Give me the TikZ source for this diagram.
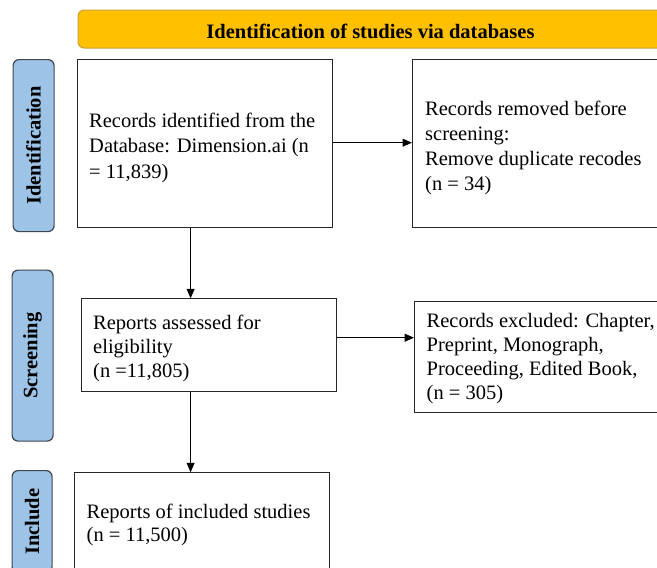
\documentclass[tikz,border=0pt]{standalone}
\usepackage{fontspec}
\setmainfont{Liberation Serif}
\usetikzlibrary{arrows.meta}
\definecolor{gold}{HTML}{FFC000}
\definecolor{goldline}{HTML}{C8A040}
\definecolor{phasefill}{HTML}{9DC3E6}
\definecolor{phaseline}{HTML}{3E4650}
\begin{document}
\begin{tikzpicture}[x=1pt,y=-1pt,
  box/.style={draw=black!85, line width=1pt, fill=white, anchor=north west, inner sep=0pt},
  txt/.style={anchor=west, align=left, inner sep=0pt, font=\fontsize{20.5}{24.5}\selectfont},
  phase/.style={draw=phaseline, fill=phasefill, line width=1.2pt, rounded corners=6pt, anchor=north west, inner sep=0pt},
  phasetxt/.style={rotate=90, font=\fontsize{20.5}{24}\selectfont\bfseries},
  arr/.style={-{Triangle[length=9.5pt,width=8pt]}, line width=1pt}]
\useasboundingbox (0,0) rectangle (657,568);
\clip (0,0) rectangle (657,568);
% banner
\node[draw=goldline, fill=gold, line width=1pt, rounded corners=6pt, anchor=north west, inner sep=0pt,
  minimum width=600pt, minimum height=38pt] (banner) at (77.5,9.5) {};
\node[font=\fontsize{20.5}{24}\selectfont\bfseries, inner sep=0pt] (bannertxt) at (370.5,31) {Identification of studies via databases};
% phase labels
\node[phase, minimum width=41pt, minimum height=172pt] (p1) at (12.5,59) {};
\node[phasetxt] (p1t) at (p1.center) {Identification};
\node[phase, minimum width=41pt, minimum height=171pt] (p2) at (11.5,269.5) {};
\node[phasetxt] (p2t) at (p2.center) {Screening};
\node[phase, minimum width=40pt, minimum height=102pt] (p3) at (11.5,470) {};
\node[phasetxt] (p3t) at (p3.center) {Include};
% boxes
\node[box, minimum width=255pt, minimum height=168pt] (b1) at (77,58.7) {};
\node[txt, font=\fontsize{20.5}{25.7}\selectfont] (t1) at ([xshift=12pt,yshift=-4.5pt]b1.west) {Records identified from the\\Database: Dimension.ai (n\\= 11,839)};
\node[box, minimum width=260pt, minimum height=168pt] (b2) at (412,58.7) {};
\node[txt, font=\fontsize{20.5}{25}\selectfont] (t2) at ([xshift=13pt,yshift=-4.75pt]b2.west) {Records removed before\\screening:\\Remove duplicate recodes\\(n = 34)};
\node[box, minimum width=255pt, minimum height=92.5pt] (b3) at (80.5,298.3) {};
\node[txt, font=\fontsize{20.5}{24}\selectfont] (t3) at ([xshift=12.5pt,yshift=-3.2pt]b3.west) {Reports assessed for\\eligibility\\(n =11,805)};
\node[box, minimum width=260pt, minimum height=110.5pt] (b4) at (414,301) {};
\node[txt, font=\fontsize{20.5}{23.8}\selectfont] (t4) at ([xshift=12.5pt,yshift=-2pt]b4.west) {Records excluded: Chapter,\\Preprint, Monograph,\\Proceeding, Edited Book,\\(n = 305)};
\node[box, minimum width=255pt, minimum height=100pt] (b5) at (74,472.3) {};
\node[txt, font=\fontsize{20.5}{23.5}\selectfont] (t5) at ([xshift=12.5pt,yshift=-2.3pt]b5.west) {Reports of included studies\\(n = 11,500)};
% connectors
\draw[arr] (b1.east |- 0,142.7) -- (b2.west |- 0,142.7);
\draw[arr] (b3.east |- 0,337.7) -- (b4.west |- 0,337.7);
\draw[arr] (b1.south -| 190.6,0) -- (b3.north -| 190.6,0);
\draw[arr] (b3.south -| 190.6,0) -- (b5.north -| 190.6,0);
\end{tikzpicture}
\end{document}
